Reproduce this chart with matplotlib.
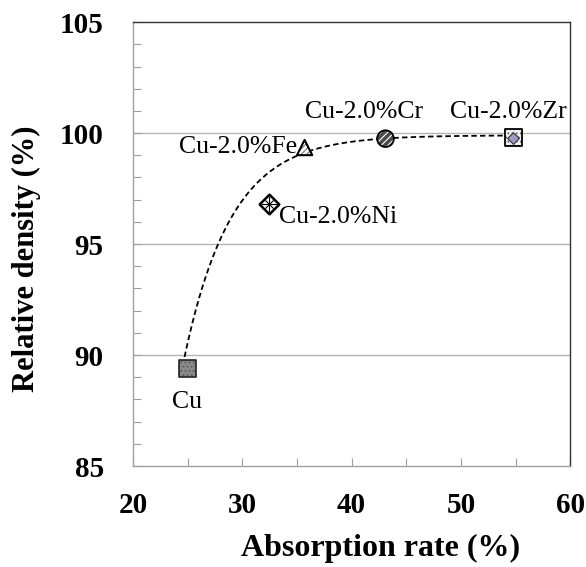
import numpy as np
import matplotlib
matplotlib.use("Agg")
import matplotlib.pyplot as plt

plt.rcParams['font.family'] = ['Liberation Serif', 'DejaVu Serif']
plt.rcParams['hatch.linewidth'] = 0.8

# measured points (absorption rate %, relative density %)
names = ['Cu', 'Cu-2.0%Fe', 'Cu-2.0%Ni', 'Cu-2.0%Cr', 'Cu-2.0%Zr']
absorption = [25.0, 35.7, 32.4, 43.1, 54.8]
density = [89.4, 99.35, 96.8, 99.75, 99.8]

# points
curve_x = [24.55, 24.76, 28.03, 31.17, 34.07, 35.74, 43.07]
curve_y = [89.63, 90.0, 95.0, 97.73, 98.63, 99.25, 99.75]
curve_top = 99.9

fig = plt.figure(figsize=(5.86, 5.67), dpi=100)
ax = fig.add_axes([0.227, 0.178, 0.746, 0.783])

# saturation curve fitted to the read guide points
k, b = np.polyfit(curve_x, np.log(curve_top - np.array(curve_y)), 1)
xs = np.linspace(curve_x[0], 54.2, 200)
ax.plot(xs, curve_top - np.exp(b + k * xs), color='black', lw=1.3,
        dashes=(3, 1.8), zorder=2)

# Cu: gray square, dotted
ax.scatter(absorption[0], density[0], s=12**2, marker='s', facecolor='#8a8a8a',
           edgecolor='#5a5a5a', hatch='....', lw=0, zorder=3)
ax.scatter(absorption[0], density[0], s=12**2, marker='s', facecolor='none',
           edgecolor='#222222', lw=1.2, zorder=4)

# Fe: hatched triangle
ax.scatter(absorption[1], density[1], s=11**2, marker='^', facecolor='white',
           edgecolor='#777777', hatch='//////', lw=0, zorder=3)
ax.scatter(absorption[1], density[1], s=11**2, marker='^', facecolor='none',
           edgecolor='black', lw=1.5, zorder=4)

# Ni: diamond with cross lines
ax.scatter(absorption[2], density[2], s=10**2, marker='D', facecolor='white',
           edgecolor='black', lw=1.8, zorder=3)
ax.scatter(absorption[2], density[2], s=11**2, marker='+', color='black',
           lw=0.8, zorder=4)
ax.scatter(absorption[2], density[2], s=6**2, marker='x', color='black',
           lw=0.8, zorder=4)

# Cr: dark hatched circle
ax.scatter(absorption[3], density[3], s=12**2, marker='o', facecolor='#4a4a4a',
           edgecolor='white', hatch='/////', lw=0, zorder=3)
ax.scatter(absorption[3], density[3], s=12**2, marker='o', facecolor='none',
           edgecolor='black', lw=1.3, zorder=4)

# Zr: dotted square with purple diamond
ax.scatter(absorption[4], density[4], s=12**2, marker='s', facecolor='#f0f0f0',
           edgecolor='#666666', hatch='....', lw=0, zorder=3)
ax.scatter(absorption[4], density[4], s=12**2, marker='s', facecolor='none',
           edgecolor='black', lw=1.3, zorder=4)
ax.scatter(absorption[4], density[4], s=6**2, marker='D', facecolor='#a497c8',
           edgecolor='#333333', lw=0.8, zorder=5)

# point labels
lab_fs = 18.5
ax.text(24.9, 87.9, names[0], fontsize=lab_fs, ha='center', va='center')
ax.text(35.0, 99.37, names[1], fontsize=lab_fs, ha='right', va='center')
ax.text(33.4, 96.2, names[2], fontsize=lab_fs, ha='left', va='center')
ax.text(41.1, 100.95, names[3], fontsize=lab_fs, ha='center', va='center')
ax.text(54.3, 100.95, names[4], fontsize=lab_fs, ha='center', va='center')

ax.set_xlim(20, 60)
ax.set_ylim(85, 105)
ax.set_xticks([20, 30, 40, 50, 60])
ax.set_yticks([85, 90, 95, 100, 105])
ax.set_xticks(np.arange(25, 60, 10), minor=True)
ax.set_yticks(np.arange(85, 106, 1), minor=True)

for yg in [90, 95, 100]:
    ax.axhline(yg, color='#b4b4b4', lw=1.0, zorder=1)

ax.tick_params(axis='both', which='both', direction='in', length=5.5,
               width=0.8, color='#a0a0a0')
ax.tick_params(axis='x', which='major', pad=19, labelsize=21)
ax.tick_params(axis='y', which='major', pad=21, labelsize=21)
for lbl in ax.get_xticklabels() + ax.get_yticklabels():
    lbl.set_fontweight('bold')

for side in ['left', 'bottom']:
    ax.spines[side].set_color('#a0a0a0')
for side in ['top', 'right']:
    ax.spines[side].set_color('#333333')
for sp in ax.spines.values():
    sp.set_linewidth(1.0)

ax.set_xlabel('Absorption rate (%)', fontsize=23, fontweight='bold', va='center')
ax.set_ylabel('Relative density (%)', fontsize=22, fontweight='bold', va='center')
ax.xaxis.set_label_coords(0.567, -0.185)
ax.yaxis.set_label_coords(-0.243, 0.468)

fig.savefig('out.png', dpi=100)
